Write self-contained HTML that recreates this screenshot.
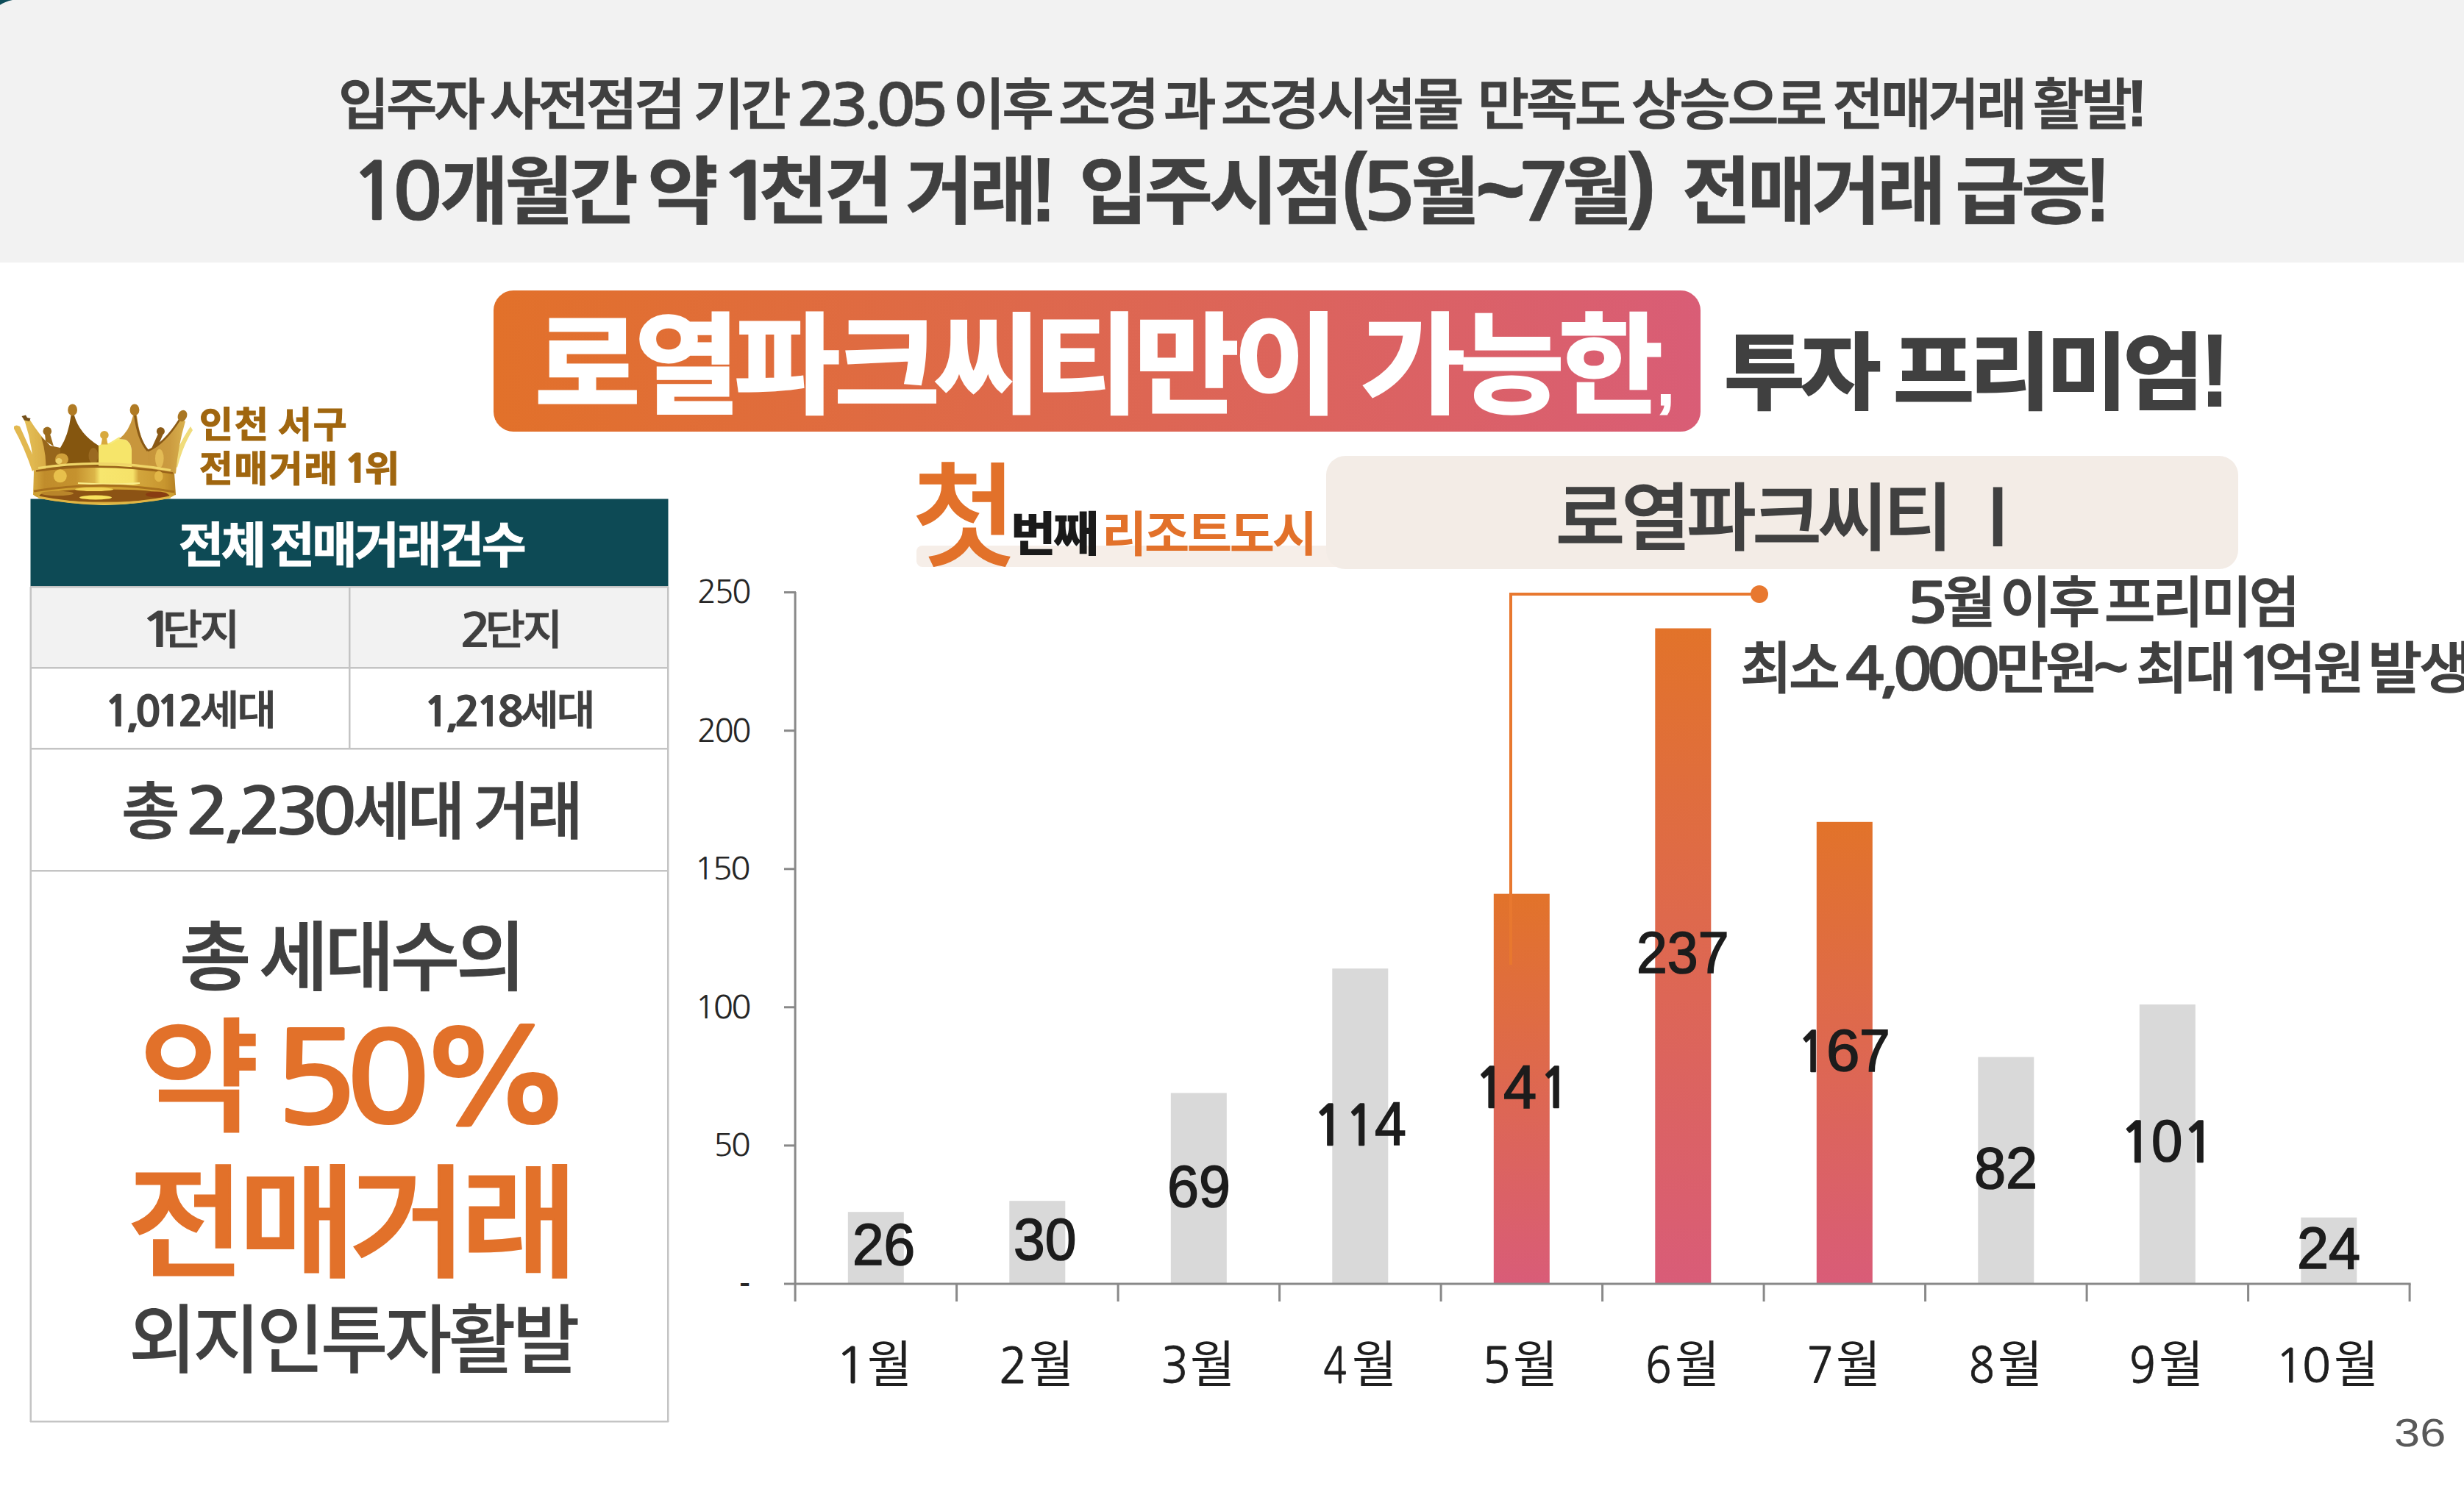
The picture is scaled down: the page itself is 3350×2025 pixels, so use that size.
<!DOCTYPE html>
<html lang="ko"><head><meta charset="utf-8"><title>slide 36</title>
<style>
html,body{margin:0;padding:0;background:#fff;}
#s{position:relative;width:3350px;height:2025px;overflow:hidden;background:#fff;}
.L{position:absolute;left:0;top:0;font-size:0;line-height:0;white-space:pre;}
.r{display:inline-block;width:0;vertical-align:top;position:relative;white-space:pre;line-height:1;transform-origin:0 0;}
.b{position:absolute;}
</style></head><body><div id="s">
<svg class="b" style="left:0;top:0" width="3350" height="2025" viewBox="0 0 3350 2025">
<defs>
<linearGradient id="gb" x1="0" y1="0" x2="1" y2="0"><stop offset="0" stop-color="#e2712a"/><stop offset="1" stop-color="#d95d76"/></linearGradient>
<linearGradient id="gv" x1="0" y1="0" x2="0" y2="1"><stop offset="0" stop-color="#e2732a"/><stop offset="1" stop-color="#d95c78"/></linearGradient>
</defs>
<rect x="0" y="0" width="3350" height="357" fill="#f2f2f2"/>
<path d="M0 0 H17 Q6 2.5 0 6.8 Z" fill="#0e4d5a"/>
<rect x="671" y="395" width="1641" height="192" rx="27" fill="url(#gb)"/>
<rect x="1246" y="742" width="620" height="29" rx="8" fill="#f6eee8"/>
<rect x="1803" y="620" width="1240" height="154" rx="26" fill="#f3ece6"/>
<rect x="41.5" y="678.5" width="867" height="119.5" fill="#0d4a55"/>
<rect x="42" y="798" width="866" height="110" fill="#f2f2f2"/>
<rect x="41" y="797" width="868" height="2.5" fill="#c4c4c4"/>
<rect x="41" y="907" width="868" height="2.5" fill="#c4c4c4"/>
<rect x="41" y="1017" width="868" height="2.5" fill="#c4c4c4"/>
<rect x="41" y="1183" width="868" height="2.5" fill="#c4c4c4"/>
<rect x="41" y="1932" width="868" height="2.5" fill="#c4c4c4"/>
<rect x="40.5" y="798" width="2.5" height="1136" fill="#c4c4c4"/>
<rect x="907" y="798" width="2.5" height="1136" fill="#c4c4c4"/>
<rect x="474" y="798" width="2.5" height="220" fill="#c4c4c4"/>
<g id="crown">
<defs>
<linearGradient id="cb" x1="0" y1="0" x2="1" y2="0">
<stop offset="0" stop-color="#d6a93e"/><stop offset="0.08" stop-color="#c08c2b"/><stop offset="0.3" stop-color="#c5922e"/><stop offset="0.43" stop-color="#dcb548"/><stop offset="0.47" stop-color="#f7e66e"/><stop offset="0.7" stop-color="#f6e269"/><stop offset="0.74" stop-color="#d2a53c"/><stop offset="0.92" stop-color="#c8962f"/><stop offset="1" stop-color="#b68225"/>
</linearGradient>
<linearGradient id="cr" x1="0" y1="0" x2="1" y2="0">
<stop offset="0" stop-color="#c6943a"/><stop offset="0.6" stop-color="#cb9b40"/><stop offset="1" stop-color="#d9b14e"/>
</linearGradient>
<linearGradient id="cl" x1="0" y1="0" x2="1" y2="0">
<stop offset="0" stop-color="#e6c25a"/><stop offset="1" stop-color="#d4a53f"/>
</linearGradient>
</defs>
<!-- outer thin prongs -->
<path d="M19 580 Q22 577 27 580 Q37 602 51 634 L44 641 Q33 608 19 583Z" fill="#e2b84f"/>
<path d="M259 580 L262 585 Q249 605 241 636 L234 629 Q244 602 259 580Z" fill="#f0dc7c"/>
<!-- second left prong (light) + dark side -->
<path d="M31 567 L40 570 Q53 591 68 606 L70 644 L46 644 Q45 608 34 574Z" fill="url(#cl)"/>
<path d="M56 594 Q63 600 68 606 L82 609 L84 644 L62 644 Q64 620 56 594Z" fill="#97661b"/>
<path d="M29.5 566 L35 564.5 L37 568 L41.5 569 L40 573 L33 571.5Z" fill="#74501a"/>
<!-- right spike -->
<path d="M201 613 Q223 604 244 570 L252 573 Q242 606 239 644 L199 644Z" fill="url(#cr)"/>
<path d="M201 613 Q223 604 244 571" fill="none" stroke="#8a5a16" stroke-width="2.5"/>
<!-- main left peak (dark) -->
<path d="M82 609 Q93 592 96.5 565 L101 565 Q108 590 134 606 L135 644 L82 644Z" fill="#85560f"/>
<ellipse cx="127" cy="620" rx="6.5" ry="11" fill="#9a6a21"/>
<!-- centre piece -->
<path d="M134 606 Q140 602 147 603 L162 597 L171 598 Q178 602 179 612 L180 644 L134 644Z" fill="#f6e56a"/>
<path d="M150 603 L163 595" stroke="#f6ea80" stroke-width="2.5"/>
<!-- main right peak -->
<path d="M162 597 Q176 586 181 565 L186 565 Q190 598 201 613 L202 644 L179 644 L179 612 Q178 602 171 598Z" fill="#c8963c"/>
<path d="M183.5 565 Q188 598 201 613" fill="none" stroke="#8a5a16" stroke-width="3"/>
<!-- balls -->
<ellipse cx="98.6" cy="557.4" rx="6.4" ry="7.9" fill="#b07b24"/>
<ellipse cx="183" cy="557.4" rx="6.4" ry="7.9" fill="#b07b24"/>
<ellipse cx="248" cy="565.5" rx="6" ry="8" transform="rotate(24 248 565.5)" fill="#a97622"/>
<circle cx="64.3" cy="586.4" r="5.8" fill="#9b6b1d"/><path d="M61 590 L68 590 L73 607 L62 600Z" fill="#9b6b1d"/>
<circle cx="141.9" cy="591.7" r="5.8" fill="#d8a93e"/><path d="M139 596 L145 596 L146.5 604.5 L137.5 604.5Z" fill="#d8a93e"/>
<circle cx="218.4" cy="586.4" r="5.5" fill="#8b5a16"/><path d="M215 590 L222 590 L215 606 L205 612Z" fill="#8b5a16"/>
<!-- upper gems -->
<ellipse cx="84" cy="624.5" rx="9" ry="8" fill="#d0a03a"/><ellipse cx="80" cy="627" rx="4.5" ry="4" fill="#ecd06a"/>
<ellipse cx="216.8" cy="623.4" rx="5.8" ry="12.7" fill="#e3bb55"/>
<!-- band -->
<path d="M46 641 Q141 626 237 643 L239 673 Q141 701 45 673Z" fill="url(#cb)"/>
<path d="M52 636.5 Q141 623 232 639.5" fill="none" stroke="#efd568" stroke-width="3.2"/>
<path d="M49 640.5 Q141 627.5 235 643.5" fill="none" stroke="#99631a" stroke-width="2.6"/>
<circle cx="81.8" cy="647.3" r="9" fill="#e8c04c"/>
<ellipse cx="215.8" cy="647.8" rx="5.8" ry="7.4" fill="#e2b748"/>
<path d="M106 657 Q150 660 190 657" fill="none" stroke="#f9ec8a" stroke-width="2.2"/>
<!-- base ring -->
<ellipse cx="141.5" cy="672" rx="96" ry="13.2" fill="#cf9f31"/>
<path d="M46 668 Q141 652 237 669" fill="none" stroke="#a8701d" stroke-width="3"/>
<ellipse cx="142" cy="674" rx="88.5" ry="8.6" fill="#8c5314"/>
<ellipse cx="213" cy="672.5" rx="15" ry="4" fill="#883c12"/>
<ellipse cx="128" cy="665.5" rx="26" ry="2.6" fill="#f1d253"/>
<ellipse cx="130" cy="676.5" rx="22" ry="3" fill="#f8e25c"/>
<ellipse cx="78" cy="671" rx="22" ry="3.2" fill="#b9852a"/>
<path d="M52 676 Q141 694 232 676" fill="none" stroke="#e0b544" stroke-width="3"/>
</g>

<rect x="1152.8" y="1648.2" width="76.0" height="97.8" fill="#d9d9d9"/>
<rect x="1372.3" y="1633.2" width="76.0" height="112.8" fill="#d9d9d9"/>
<rect x="1591.8" y="1486.4" width="76.0" height="259.6" fill="#d9d9d9"/>
<rect x="1811.3" y="1317.2" width="76.0" height="428.8" fill="#d9d9d9"/>
<rect x="2030.8" y="1215.6" width="76.0" height="530.4" fill="url(#gv)"/>
<rect x="2250.3" y="854.5" width="76.0" height="891.5" fill="url(#gv)"/>
<rect x="2469.8" y="1117.8" width="76.0" height="628.2" fill="url(#gv)"/>
<rect x="2689.3" y="1437.5" width="76.0" height="308.5" fill="#d9d9d9"/>
<rect x="2908.8" y="1366.1" width="76.0" height="379.9" fill="#d9d9d9"/>
<rect x="3128.3" y="1655.7" width="76.0" height="90.3" fill="#d9d9d9"/>
<rect x="1079.6" y="805" width="3" height="965.0" fill="#898989"/>
<rect x="1066" y="1744.5" width="2211.6" height="3" fill="#898989"/>
<rect x="1066" y="1556.4" width="16" height="3" fill="#898989"/>
<rect x="1066" y="1368.3" width="16" height="3" fill="#898989"/>
<rect x="1066" y="1180.3" width="16" height="3" fill="#898989"/>
<rect x="1066" y="992.2" width="16" height="3" fill="#898989"/>
<rect x="1066" y="804.1" width="16" height="3" fill="#898989"/>
<rect x="1299.1" y="1746.0" width="3" height="24" fill="#898989"/>
<rect x="1518.6" y="1746.0" width="3" height="24" fill="#898989"/>
<rect x="1738.1" y="1746.0" width="3" height="24" fill="#898989"/>
<rect x="1957.6" y="1746.0" width="3" height="24" fill="#898989"/>
<rect x="2177.1" y="1746.0" width="3" height="24" fill="#898989"/>
<rect x="2396.6" y="1746.0" width="3" height="24" fill="#898989"/>
<rect x="2616.1" y="1746.0" width="3" height="24" fill="#898989"/>
<rect x="2835.6" y="1746.0" width="3" height="24" fill="#898989"/>
<rect x="3055.1" y="1746.0" width="3" height="24" fill="#898989"/>
<rect x="3274.6" y="1746.0" width="3" height="24" fill="#898989"/>
<path d="M2054 1312 V808 H2392" fill="none" stroke="#e8782f" stroke-width="4"/>
<circle cx="2392" cy="808" r="12" fill="#e8782f"/>
</svg>
<div class="L"><span class="r" style="left:460.2px;top:105.7px;font-family:'Liberation Sans','Noto Sans CJK KR',sans-serif;font-weight:500;font-size:75.2px;letter-spacing:-3.76px;color:#404040;-webkit-text-stroke:1.5px;transform:scaleX(0.9979)">입주자</span> <span class="r" style="left:666.2px;top:105.7px;font-family:'Liberation Sans','Noto Sans CJK KR',sans-serif;font-weight:500;font-size:75.2px;letter-spacing:-3.76px;color:#404040;-webkit-text-stroke:1.5px;transform:scaleX(1.0027)">사전점검</span> <span class="r" style="left:942.7px;top:105.7px;font-family:'Liberation Sans','Noto Sans CJK KR',sans-serif;font-weight:500;font-size:75.2px;letter-spacing:-3.76px;color:#404040;-webkit-text-stroke:1.5px;transform:scaleX(0.9838)">기간</span> <span class="r" style="left:1082.5px;top:104.2px;font-family:'NanumGothic','Liberation Sans',sans-serif;font-weight:700;font-size:79.7px;letter-spacing:-7.97px;color:#404040;-webkit-text-stroke:0.4px;transform:scaleX(1.1153)">23.05</span> <span class="r" style="left:1296.4px;top:105.7px;font-family:'Liberation Sans','Noto Sans CJK KR',sans-serif;font-weight:500;font-size:75.2px;letter-spacing:-3.76px;color:#404040;-webkit-text-stroke:1.5px;transform:scaleX(1.0173)">이후</span> <span class="r" style="left:1439.0px;top:105.7px;font-family:'Liberation Sans','Noto Sans CJK KR',sans-serif;font-weight:500;font-size:75.2px;letter-spacing:-3.76px;color:#404040;-webkit-text-stroke:1.5px;transform:scaleX(1.0194)">조경</span> <span class="r" style="left:1582.0px;top:105.7px;font-family:'Liberation Sans','Noto Sans CJK KR',sans-serif;font-weight:500;font-size:75.2px;letter-spacing:-3.76px;color:#404040;-webkit-text-stroke:1.5px;transform:scaleX(1.0333)">과</span> <span class="r" style="left:1659.7px;top:105.7px;font-family:'Liberation Sans','Noto Sans CJK KR',sans-serif;font-weight:500;font-size:75.2px;letter-spacing:-3.76px;color:#404040;-webkit-text-stroke:1.5px;transform:scaleX(0.9985)">조경시설물</span>  <span class="r" style="left:2009.4px;top:105.7px;font-family:'Liberation Sans','Noto Sans CJK KR',sans-serif;font-weight:500;font-size:75.2px;letter-spacing:-3.76px;color:#404040;-webkit-text-stroke:1.5px;transform:scaleX(1.0094)">만족도</span> <span class="r" style="left:2217.5px;top:105.7px;font-family:'Liberation Sans','Noto Sans CJK KR',sans-serif;font-weight:500;font-size:75.2px;letter-spacing:-3.76px;color:#404040;-webkit-text-stroke:1.5px;transform:scaleX(1.0015)">상승으로</span> <span class="r" style="left:2492.3px;top:105.7px;font-family:'Liberation Sans','Noto Sans CJK KR',sans-serif;font-weight:500;font-size:75.2px;letter-spacing:-3.76px;color:#404040;-webkit-text-stroke:1.5px;transform:scaleX(0.9946)">전매거래</span> <span class="r" style="left:2763.6px;top:105.7px;font-family:'Liberation Sans','Noto Sans CJK KR',sans-serif;font-weight:500;font-size:75.2px;letter-spacing:-3.76px;color:#404040;-webkit-text-stroke:1.5px;transform:scaleX(1.0015)">활발</span><span class="r" style="left:2891.8px;top:96.3px;font-family:'Liberation Sans','Noto Sans CJK KR',sans-serif;font-weight:900;font-size:89.1px;letter-spacing:-4.46px;color:#404040;-webkit-text-stroke:1.5px;transform:scaleX(0.9143)">!</span></div>
<div class="L"><span class="r" style="left:474.5px;top:209.8px;font-family:'NanumGothic','Liberation Sans',sans-serif;font-weight:700;font-size:106.3px;letter-spacing:-10.63px;color:#404040;-webkit-text-stroke:0.6px;transform:scaleX(1.0790)">10</span><span class="r" style="left:598.3px;top:210.7px;font-family:'Liberation Sans','Noto Sans CJK KR',sans-serif;font-weight:700;font-size:100.2px;letter-spacing:-5.01px;color:#404040;-webkit-text-stroke:0.6px;transform:scaleX(1.0123)">개월간</span> <span class="r" style="left:879.7px;top:210.7px;font-family:'Liberation Sans','Noto Sans CJK KR',sans-serif;font-weight:700;font-size:100.2px;letter-spacing:-5.01px;color:#404040;-webkit-text-stroke:0.6px;transform:scaleX(1.0529)">약</span> <span class="r" style="left:973.6px;top:208.3px;font-family:'NanumGothic','Liberation Sans',sans-serif;font-weight:700;font-size:107.7px;letter-spacing:-10.77px;color:#404040;-webkit-text-stroke:0.6px;transform:scaleX(1.2964)">1</span><span class="r" style="left:1032.3px;top:210.7px;font-family:'Liberation Sans','Noto Sans CJK KR',sans-serif;font-weight:700;font-size:100.2px;letter-spacing:-5.01px;color:#404040;-webkit-text-stroke:0.6px;transform:scaleX(1.0148)">천건</span> <span class="r" style="left:1230.8px;top:210.7px;font-family:'Liberation Sans','Noto Sans CJK KR',sans-serif;font-weight:700;font-size:100.2px;letter-spacing:-5.01px;color:#404040;-webkit-text-stroke:0.6px;transform:scaleX(0.9976)">거래</span><span class="r" style="left:1401.4px;top:196.0px;font-family:'Liberation Sans','Noto Sans CJK KR',sans-serif;font-weight:900;font-size:124.6px;letter-spacing:-6.23px;color:#404040;-webkit-text-stroke:0.6px;transform:scaleX(0.8526)">!</span>  <span class="r" style="left:1466.8px;top:210.7px;font-family:'Liberation Sans','Noto Sans CJK KR',sans-serif;font-weight:700;font-size:100.2px;letter-spacing:-5.01px;color:#404040;-webkit-text-stroke:0.6px;transform:scaleX(1.0156)">입주시점</span><span class="r" style="left:1823.8px;top:191.5px;font-family:'Liberation Sans','Noto Sans CJK KR',sans-serif;font-weight:900;font-size:114.6px;letter-spacing:-5.73px;color:#404040;-webkit-text-stroke:0.6px;transform:scaleX(0.9212)">(</span><span class="r" style="left:1849.1px;top:209.5px;font-family:'NanumGothic','Liberation Sans',sans-serif;font-weight:700;font-size:107.4px;letter-spacing:-10.74px;color:#404040;-webkit-text-stroke:0.5px;transform:scaleX(1.1833)">5</span><span class="r" style="left:1917.7px;top:210.7px;font-family:'Liberation Sans','Noto Sans CJK KR',sans-serif;font-weight:700;font-size:100.2px;letter-spacing:-5.01px;color:#404040;-webkit-text-stroke:0.6px;transform:scaleX(1.0210)">월</span><span class="r" style="left:2005.5px;top:192.0px;font-family:'Liberation Sans','Noto Sans CJK KR',sans-serif;font-weight:700;font-size:130.7px;letter-spacing:-6.54px;color:#404040;-webkit-text-stroke:0.6px;transform:scaleX(0.8940)">~</span><span class="r" style="left:2063.1px;top:209.8px;font-family:'NanumGothic','Liberation Sans',sans-serif;font-weight:700;font-size:106.9px;letter-spacing:-10.69px;color:#404040;-webkit-text-stroke:0.6px;transform:scaleX(1.1160)">7</span><span class="r" style="left:2123.5px;top:210.7px;font-family:'Liberation Sans','Noto Sans CJK KR',sans-serif;font-weight:700;font-size:100.2px;letter-spacing:-5.01px;color:#404040;-webkit-text-stroke:0.6px;transform:scaleX(1.0395)">월</span><span class="r" style="left:2214.0px;top:191.5px;font-family:'Liberation Sans','Noto Sans CJK KR',sans-serif;font-weight:900;font-size:114.6px;letter-spacing:-5.73px;color:#404040;-webkit-text-stroke:0.6px;transform:scaleX(0.9818)">)</span>  <span class="r" style="left:2287.2px;top:210.7px;font-family:'Liberation Sans','Noto Sans CJK KR',sans-serif;font-weight:700;font-size:100.2px;letter-spacing:-5.01px;color:#404040;-webkit-text-stroke:0.6px;transform:scaleX(1.0146)">전매거래</span> <span class="r" style="left:2657.7px;top:210.7px;font-family:'Liberation Sans','Noto Sans CJK KR',sans-serif;font-weight:700;font-size:100.2px;letter-spacing:-5.01px;color:#404040;-webkit-text-stroke:0.6px;transform:scaleX(1.0326)">급증</span><span class="r" style="left:2834.0px;top:196.2px;font-family:'Liberation Sans','Noto Sans CJK KR',sans-serif;font-weight:900;font-size:124.9px;letter-spacing:-6.25px;color:#404040;-webkit-text-stroke:0.6px;transform:scaleX(0.8684)">!</span></div>
<div class="L"><span class="r" style="left:727.4px;top:425.4px;font-family:'Liberation Sans','Noto Sans CJK KR',sans-serif;font-weight:700;font-size:148.5px;letter-spacing:-7.43px;color:#fff;-webkit-text-stroke:3px;transform:scaleX(1.0505)">로열파크씨티만이</span> <span class="r" style="left:1849.7px;top:425.4px;font-family:'Liberation Sans','Noto Sans CJK KR',sans-serif;font-weight:700;font-size:148.5px;letter-spacing:-7.43px;color:#fff;-webkit-text-stroke:3px;transform:scaleX(1.0406)">가능한</span><span class="r" style="left:2254.2px;top:480.3px;font-family:'Liberation Sans','Noto Sans CJK KR',sans-serif;font-weight:700;font-size:83.0px;letter-spacing:-4.15px;color:#fff;-webkit-text-stroke:3px;transform:scaleX(0.9250)">,</span></div>
<div class="L"><span class="r" style="left:2343.9px;top:451.6px;font-family:'Liberation Sans','Noto Sans CJK KR',sans-serif;font-weight:700;font-size:113.1px;letter-spacing:-5.66px;color:#404040;-webkit-text-stroke:2.2px;transform:scaleX(1.0535)">투자</span> <span class="r" style="left:2574.2px;top:451.6px;font-family:'Liberation Sans','Noto Sans CJK KR',sans-serif;font-weight:700;font-size:113.1px;letter-spacing:-5.66px;color:#404040;-webkit-text-stroke:2.2px;transform:scaleX(1.0582)">프리미엄</span><span class="r" style="left:2991.8px;top:433.7px;font-family:'Liberation Sans','Noto Sans CJK KR',sans-serif;font-weight:900;font-size:139.8px;letter-spacing:-6.99px;color:#404040;-webkit-text-stroke:2.2px;transform:scaleX(0.8273)">!</span></div>
<div class="L"><span class="r" style="left:270.7px;top:554.1px;font-family:'Liberation Sans','Noto Sans CJK KR',sans-serif;font-weight:700;font-size:48.6px;letter-spacing:1.94px;color:#a0660f;-webkit-text-stroke:1.2px;transform:scaleX(1.0267)">인천</span> <span class="r" style="left:377.7px;top:554.1px;font-family:'Liberation Sans','Noto Sans CJK KR',sans-serif;font-weight:700;font-size:48.6px;letter-spacing:1.94px;color:#a0660f;-webkit-text-stroke:1.2px;transform:scaleX(1.0258)">서구</span></div>
<div class="L"><span class="r" style="left:271.2px;top:613.2px;font-family:'Liberation Sans','Noto Sans CJK KR',sans-serif;font-weight:700;font-size:49.2px;letter-spacing:1.97px;color:#a0660f;-webkit-text-stroke:1.2px;transform:scaleX(1.0066)">전매거래</span> <span class="r" style="left:467.9px;top:612.0px;font-family:'NanumGothic','Liberation Sans',sans-serif;font-weight:800;font-size:51.1px;letter-spacing:-5.11px;color:#a0660f;-webkit-text-stroke:1.1px;transform:scaleX(1.0875)">1</span><span class="r" style="left:495.9px;top:613.2px;font-family:'Liberation Sans','Noto Sans CJK KR',sans-serif;font-weight:700;font-size:49.2px;letter-spacing:1.97px;color:#a0660f;-webkit-text-stroke:1.2px;transform:scaleX(1.0462)">위</span></div>
<div class="L"><span class="r" style="left:243.0px;top:710.3px;font-family:'Liberation Sans','Noto Sans CJK KR',sans-serif;font-weight:700;font-size:65.6px;letter-spacing:-3.28px;color:#fff;-webkit-text-stroke:1px;transform:scaleX(1.0127)">전체</span> <span class="r" style="left:366.6px;top:710.3px;font-family:'Liberation Sans','Noto Sans CJK KR',sans-serif;font-weight:700;font-size:65.6px;letter-spacing:-3.28px;color:#fff;-webkit-text-stroke:1px;transform:scaleX(1.0082)">전매거래건수</span></div>
<div class="L"><span class="r" style="left:188.7px;top:824.7px;font-family:'NanumGothic','Liberation Sans',sans-serif;font-weight:700;font-size:65.3px;letter-spacing:-6.53px;color:#404040;transform:scaleX(1.3125)">1</span><span class="r" style="left:220.8px;top:829.7px;font-family:'Liberation Sans','Noto Sans CJK KR',sans-serif;font-weight:500;font-size:55.6px;letter-spacing:-2.78px;color:#404040;-webkit-text-stroke:1px;transform:scaleX(1.0562)">단지</span></div>
<div class="L"><span class="r" style="left:624.5px;top:826.7px;font-family:'NanumGothic','Liberation Sans',sans-serif;font-weight:700;font-size:63.2px;letter-spacing:-6.32px;color:#404040;transform:scaleX(1.1310)">2</span><span class="r" style="left:659.8px;top:829.7px;font-family:'Liberation Sans','Noto Sans CJK KR',sans-serif;font-weight:500;font-size:55.6px;letter-spacing:-2.78px;color:#404040;-webkit-text-stroke:1px;transform:scaleX(1.0539)">단지</span></div>
<div class="L"><span class="r" style="left:142.3px;top:940.4px;font-family:'NanumGothic','Liberation Sans',sans-serif;font-weight:800;font-size:56.4px;letter-spacing:-5.64px;color:#404040;transform:scaleX(1.0292)">1,012</span><span class="r" style="left:272.4px;top:938.8px;font-family:'Liberation Sans','Noto Sans CJK KR',sans-serif;font-weight:500;font-size:55.0px;letter-spacing:-2.75px;color:#404040;-webkit-text-stroke:1px;transform:scaleX(1.0538)">세대</span></div>
<div class="L"><span class="r" style="left:575.6px;top:941.4px;font-family:'NanumGothic','Liberation Sans',sans-serif;font-weight:800;font-size:55.0px;letter-spacing:-5.50px;color:#404040;transform:scaleX(1.0625)">1,218</span><span class="r" style="left:707.0px;top:938.8px;font-family:'Liberation Sans','Noto Sans CJK KR',sans-serif;font-weight:500;font-size:55.0px;letter-spacing:-2.75px;color:#404040;-webkit-text-stroke:1px;transform:scaleX(1.0398)">세대</span></div>
<div class="L"><span class="r" style="left:165.4px;top:1062.0px;font-family:'Liberation Sans','Noto Sans CJK KR',sans-serif;font-weight:500;font-size:85.3px;letter-spacing:-4.26px;color:#404040;-webkit-text-stroke:1px;transform:scaleX(1.0139)">총</span> <span class="r" style="left:252.1px;top:1061.2px;font-family:'NanumGothic','Liberation Sans',sans-serif;font-weight:700;font-size:88.2px;letter-spacing:-8.82px;color:#404040;transform:scaleX(1.1378)">2,230</span><span class="r" style="left:480.3px;top:1062.0px;font-family:'Liberation Sans','Noto Sans CJK KR',sans-serif;font-weight:500;font-size:85.3px;letter-spacing:-4.26px;color:#404040;-webkit-text-stroke:1px;transform:scaleX(0.9972)">세대</span> <span class="r" style="left:643.6px;top:1062.0px;font-family:'Liberation Sans','Noto Sans CJK KR',sans-serif;font-weight:500;font-size:85.3px;letter-spacing:-4.26px;color:#404040;-webkit-text-stroke:1px;transform:scaleX(0.9739)">거래</span></div>
<div class="L"><span class="r" style="left:243.7px;top:1252.0px;font-family:'Liberation Sans','Noto Sans CJK KR',sans-serif;font-weight:500;font-size:103.2px;letter-spacing:-5.16px;color:#404040;-webkit-text-stroke:1px;transform:scaleX(1.0279)">총</span> <span class="r" style="left:351.9px;top:1252.0px;font-family:'Liberation Sans','Noto Sans CJK KR',sans-serif;font-weight:500;font-size:103.2px;letter-spacing:-5.16px;color:#404040;-webkit-text-stroke:1px;transform:scaleX(0.9957)">세대수의</span></div>
<div class="L"><span class="r" style="left:188.7px;top:1383.3px;font-family:'Liberation Sans','Noto Sans CJK KR',sans-serif;font-weight:500;font-size:168.6px;letter-spacing:-8.43px;color:#e2712a;-webkit-text-stroke:2.5px;transform:scaleX(1.0546)">약</span> <span class="r" style="left:368.6px;top:1383.7px;font-family:'NanumGothic','Liberation Sans',sans-serif;font-weight:700;font-size:172.9px;letter-spacing:-17.29px;color:#e2712a;transform:scaleX(1.1336)">50%</span></div>
<div class="L"><span class="r" style="left:172.6px;top:1583.3px;font-family:'Liberation Sans','Noto Sans CJK KR',sans-serif;font-weight:500;font-size:165.5px;letter-spacing:-8.28px;color:#e2712a;-webkit-text-stroke:3px;transform:scaleX(1.0496)">전매거래</span></div>
<div class="L"><span class="r" style="left:175.1px;top:1773.0px;font-family:'Liberation Sans','Noto Sans CJK KR',sans-serif;font-weight:500;font-size:102.2px;letter-spacing:-5.11px;color:#404040;transform:scaleX(0.9780)">외지인투자활발</span></div>
<div class="L"><span class="r" style="left:1239.9px;top:628.7px;font-family:'Liberation Sans','Noto Sans CJK KR',sans-serif;font-weight:500;font-size:153.9px;letter-spacing:-7.70px;color:#e2712a;-webkit-text-stroke:1.5px;transform:scaleX(1.0063)">첫</span><span class="r" style="left:1373.7px;top:694.9px;font-family:'Liberation Sans','Noto Sans CJK KR',sans-serif;font-weight:900;font-size:64.0px;letter-spacing:-3.20px;color:#1a1a1a;transform:scaleX(1.0434)">번째</span> <span class="r" style="left:1497.6px;top:694.9px;font-family:'Liberation Sans','Noto Sans CJK KR',sans-serif;font-weight:700;font-size:65.4px;letter-spacing:-3.27px;color:#e2712a;transform:scaleX(1.0179)">리조트도시</span></div>
<div class="L"><span class="r" style="left:2115.2px;top:654.9px;font-family:'Liberation Sans','Noto Sans CJK KR',sans-serif;font-weight:500;font-size:100.5px;letter-spacing:-5.03px;color:#404040;-webkit-text-stroke:1.5px;transform:scaleX(1.0195)">로열파크씨티</span>  <span class="r" style="left:2704.3px;top:644.0px;font-family:'Liberation Sans',sans-serif;font-weight:700;font-size:117.2px;letter-spacing:0.00px;color:#404040;transform:scaleX(0.7412)">I</span></div>
<div class="L"><span class="r" style="left:2591.2px;top:783.0px;font-family:'NanumGothic','Liberation Sans',sans-serif;font-weight:700;font-size:76.0px;letter-spacing:-7.60px;color:#404040;-webkit-text-stroke:0.8px;transform:scaleX(1.2600)">5</span><span class="r" style="left:2640.9px;top:782.7px;font-family:'Liberation Sans','Noto Sans CJK KR',sans-serif;font-weight:500;font-size:75.4px;letter-spacing:-3.77px;color:#404040;-webkit-text-stroke:1.3px;transform:scaleX(1.0517)">월</span> <span class="r" style="left:2718.5px;top:782.7px;font-family:'Liberation Sans','Noto Sans CJK KR',sans-serif;font-weight:500;font-size:75.4px;letter-spacing:-3.77px;color:#404040;-webkit-text-stroke:1.3px;transform:scaleX(1.0110)">이후</span> <span class="r" style="left:2860.8px;top:782.7px;font-family:'Liberation Sans','Noto Sans CJK KR',sans-serif;font-weight:500;font-size:75.4px;letter-spacing:-3.77px;color:#404040;-webkit-text-stroke:1.3px;transform:scaleX(1.0004)">프리미엄</span></div>
<div class="L"><span class="r" style="left:2365.5px;top:872.1px;font-family:'Liberation Sans','Noto Sans CJK KR',sans-serif;font-weight:500;font-size:75.9px;letter-spacing:-3.80px;color:#404040;-webkit-text-stroke:1.3px;transform:scaleX(1.0008)">최소</span> <span class="r" style="left:2508.3px;top:871.8px;font-family:'NanumGothic','Liberation Sans',sans-serif;font-weight:700;font-size:80.2px;letter-spacing:-8.02px;color:#404040;-webkit-text-stroke:0.3px;transform:scaleX(1.1376)">4,000</span><span class="r" style="left:2713.3px;top:872.1px;font-family:'Liberation Sans','Noto Sans CJK KR',sans-serif;font-weight:500;font-size:75.9px;letter-spacing:-3.80px;color:#404040;-webkit-text-stroke:1.3px;transform:scaleX(1.0315)">만원</span><span class="r" style="left:2846.0px;top:853.6px;font-family:'Liberation Sans','Noto Sans CJK KR',sans-serif;font-weight:500;font-size:104.3px;letter-spacing:-5.21px;color:#404040;-webkit-text-stroke:1.3px;transform:scaleX(0.7981)">~</span> <span class="r" style="left:2904.4px;top:872.1px;font-family:'Liberation Sans','Noto Sans CJK KR',sans-serif;font-weight:500;font-size:75.9px;letter-spacing:-3.80px;color:#404040;-webkit-text-stroke:1.3px;transform:scaleX(1.0063)">최대</span> <span class="r" style="left:3037.1px;top:870.5px;font-family:'NanumGothic','Liberation Sans',sans-serif;font-weight:700;font-size:81.2px;letter-spacing:-8.12px;color:#404040;-webkit-text-stroke:0.3px;transform:scaleX(1.2857)">1</span><span class="r" style="left:3079.4px;top:872.1px;font-family:'Liberation Sans','Noto Sans CJK KR',sans-serif;font-weight:500;font-size:75.9px;letter-spacing:-3.80px;color:#404040;-webkit-text-stroke:1.3px;transform:scaleX(0.9984)">억원</span> <span class="r" style="left:3219.1px;top:872.1px;font-family:'Liberation Sans','Noto Sans CJK KR',sans-serif;font-weight:500;font-size:75.9px;letter-spacing:-3.80px;color:#404040;-webkit-text-stroke:1.3px;transform:scaleX(1.0613)">발생</span></div>
<div class="L"><span class="r" style="left:947.7px;top:784.0px;font-family:'NanumGothic','Liberation Sans',sans-serif;font-weight:400;font-size:42.4px;letter-spacing:-2.54px;color:#262626;transform:scaleX(1.0179)">250</span></div>
<div class="L"><span class="r" style="left:947.8px;top:971.6px;font-family:'NanumGothic','Liberation Sans',sans-serif;font-weight:400;font-size:43.7px;letter-spacing:-2.62px;color:#262626;transform:scaleX(0.9884)">200</span></div>
<div class="L"><span class="r" style="left:944.3px;top:1160.7px;font-family:'NanumGothic','Liberation Sans',sans-serif;font-weight:400;font-size:41.7px;letter-spacing:-2.50px;color:#262626;transform:scaleX(1.0825)">150</span></div>
<div class="L"><span class="r" style="left:944.5px;top:1347.7px;font-family:'NanumGothic','Liberation Sans',sans-serif;font-weight:400;font-size:43.0px;letter-spacing:-2.58px;color:#262626;transform:scaleX(1.0492)">100</span></div>
<div class="L"><span class="r" style="left:970.3px;top:1536.8px;font-family:'NanumGothic','Liberation Sans',sans-serif;font-weight:400;font-size:41.7px;letter-spacing:-2.50px;color:#262626;transform:scaleX(1.0595)">50</span></div>
<div class="L"><span class="r" style="left:1005.2px;top:1718.0px;font-family:'Liberation Sans','Noto Sans CJK KR',sans-serif;font-weight:400;font-size:50.0px;letter-spacing:0.00px;color:#262626;transform:scaleX(0.9167)">-</span></div>
<div class="L"><span class="r" style="left:1135.4px;top:1824.8px;font-family:'NanumGothic','Liberation Sans',sans-serif;font-weight:400;font-size:65.9px;letter-spacing:0.00px;color:#1f1f1f;-webkit-text-stroke:0.8px;transform:scaleX(1.1125)">1</span><span class="r" style="left:1179.4px;top:1823.2px;font-family:'Liberation Sans','Noto Sans CJK KR',sans-serif;font-weight:400;font-size:67.8px;letter-spacing:0.00px;color:#1f1f1f;transform:scaleX(0.9792)">월</span></div>
<div class="L"><span class="r" style="left:1358.1px;top:1824.8px;font-family:'NanumGothic','Liberation Sans',sans-serif;font-weight:400;font-size:65.9px;letter-spacing:0.00px;color:#1f1f1f;-webkit-text-stroke:0.8px;transform:scaleX(0.9767)">2</span><span class="r" style="left:1398.9px;top:1823.2px;font-family:'Liberation Sans','Noto Sans CJK KR',sans-serif;font-weight:400;font-size:67.8px;letter-spacing:0.00px;color:#1f1f1f;transform:scaleX(0.9792)">월</span></div>
<div class="L"><span class="r" style="left:1577.8px;top:1824.3px;font-family:'NanumGothic','Liberation Sans',sans-serif;font-weight:400;font-size:66.3px;letter-spacing:0.00px;color:#1f1f1f;-webkit-text-stroke:0.8px;transform:scaleX(0.9452)">3</span><span class="r" style="left:1618.4px;top:1823.2px;font-family:'Liberation Sans','Noto Sans CJK KR',sans-serif;font-weight:400;font-size:67.8px;letter-spacing:0.00px;color:#1f1f1f;transform:scaleX(0.9792)">월</span></div>
<div class="L"><span class="r" style="left:1799.4px;top:1824.8px;font-family:'NanumGothic','Liberation Sans',sans-serif;font-weight:400;font-size:65.9px;letter-spacing:0.00px;color:#1f1f1f;-webkit-text-stroke:0.8px;transform:scaleX(0.8139)">4</span><span class="r" style="left:1837.9px;top:1823.2px;font-family:'Liberation Sans','Noto Sans CJK KR',sans-serif;font-weight:400;font-size:67.8px;letter-spacing:0.00px;color:#1f1f1f;transform:scaleX(0.9792)">월</span></div>
<div class="L"><span class="r" style="left:2014.7px;top:1823.8px;font-family:'NanumGothic','Liberation Sans',sans-serif;font-weight:400;font-size:66.3px;letter-spacing:0.00px;color:#1f1f1f;-webkit-text-stroke:0.8px;transform:scaleX(0.9767)">5</span><span class="r" style="left:2057.4px;top:1823.2px;font-family:'Liberation Sans','Noto Sans CJK KR',sans-serif;font-weight:400;font-size:67.8px;letter-spacing:0.00px;color:#1f1f1f;transform:scaleX(0.9792)">월</span></div>
<div class="L"><span class="r" style="left:2236.5px;top:1824.3px;font-family:'NanumGothic','Liberation Sans',sans-serif;font-weight:400;font-size:66.3px;letter-spacing:0.00px;color:#1f1f1f;-webkit-text-stroke:0.8px;transform:scaleX(0.8879)">6</span><span class="r" style="left:2276.9px;top:1823.2px;font-family:'Liberation Sans','Noto Sans CJK KR',sans-serif;font-weight:400;font-size:67.8px;letter-spacing:0.00px;color:#1f1f1f;transform:scaleX(0.9792)">월</span></div>
<div class="L"><span class="r" style="left:2455.8px;top:1824.8px;font-family:'NanumGothic','Liberation Sans',sans-serif;font-weight:400;font-size:65.9px;letter-spacing:0.00px;color:#1f1f1f;-webkit-text-stroke:0.8px;transform:scaleX(0.9452)">7</span><span class="r" style="left:2496.4px;top:1823.2px;font-family:'Liberation Sans','Noto Sans CJK KR',sans-serif;font-weight:400;font-size:67.8px;letter-spacing:0.00px;color:#1f1f1f;transform:scaleX(0.9792)">월</span></div>
<div class="L"><span class="r" style="left:2676.5px;top:1824.3px;font-family:'NanumGothic','Liberation Sans',sans-serif;font-weight:400;font-size:66.3px;letter-spacing:0.00px;color:#1f1f1f;-webkit-text-stroke:0.8px;transform:scaleX(0.8618)">8</span><span class="r" style="left:2715.9px;top:1823.2px;font-family:'Liberation Sans','Noto Sans CJK KR',sans-serif;font-weight:400;font-size:67.8px;letter-spacing:0.00px;color:#1f1f1f;transform:scaleX(0.9792)">월</span></div>
<div class="L"><span class="r" style="left:2895.0px;top:1824.3px;font-family:'NanumGothic','Liberation Sans',sans-serif;font-weight:400;font-size:66.3px;letter-spacing:0.00px;color:#1f1f1f;-webkit-text-stroke:0.8px;transform:scaleX(0.8879)">9</span><span class="r" style="left:2935.4px;top:1823.2px;font-family:'Liberation Sans','Noto Sans CJK KR',sans-serif;font-weight:400;font-size:67.8px;letter-spacing:0.00px;color:#1f1f1f;transform:scaleX(0.9792)">월</span></div>
<div class="L"><span class="r" style="left:3092.5px;top:1825.8px;font-family:'NanumGothic','Liberation Sans',sans-serif;font-weight:400;font-size:63.7px;letter-spacing:-2.55px;color:#1f1f1f;-webkit-text-stroke:0.8px;transform:scaleX(1.0206)">10</span><span class="r" style="left:3172.6px;top:1823.2px;font-family:'Liberation Sans','Noto Sans CJK KR',sans-serif;font-weight:400;font-size:67.8px;letter-spacing:0.00px;color:#1f1f1f;transform:scaleX(0.9792)">월</span></div>
<div class="L"><span class="r" style="left:1158.6px;top:1653.3px;font-family:'Liberation Sans',sans-serif;font-weight:400;font-size:79.6px;letter-spacing:0.00px;color:#1c1c1c;-webkit-text-stroke:1.7px;transform:scaleX(0.9627)">26</span></div>
<div class="L"><span class="r" style="left:1378.1px;top:1646.0px;font-family:'Liberation Sans',sans-serif;font-weight:400;font-size:79.6px;letter-spacing:0.00px;color:#1c1c1c;-webkit-text-stroke:1.7px;transform:scaleX(0.9643)">30</span></div>
<div class="L"><span class="r" style="left:1587.1px;top:1573.5px;font-family:'Liberation Sans',sans-serif;font-weight:400;font-size:79.5px;letter-spacing:0.00px;color:#1c1c1c;-webkit-text-stroke:1.7px;transform:scaleX(0.9711)">69</span></div>
<div class="L"><span class="r" style="left:1784.4px;top:1494.8px;font-family:'NanumGothic','Liberation Sans',sans-serif;font-weight:700;font-size:75.0px;letter-spacing:0.00px;color:#1c1c1c;-webkit-text-stroke:0.6px;transform:scaleX(0.9950)">1</span><span class="r" style="left:1828.0px;top:1494.8px;font-family:'NanumGothic','Liberation Sans',sans-serif;font-weight:700;font-size:75.0px;letter-spacing:0.00px;color:#1c1c1c;-webkit-text-stroke:0.6px;transform:scaleX(0.9500)">1</span><span class="r" style="left:1869.4px;top:1488.3px;font-family:'Liberation Sans',sans-serif;font-weight:400;font-size:82.9px;letter-spacing:0.00px;color:#1c1c1c;-webkit-text-stroke:1.7px;transform:scaleX(0.9295)">4</span></div>
<div class="L"><span class="r" style="left:2003.8px;top:1444.1px;font-family:'NanumGothic','Liberation Sans',sans-serif;font-weight:700;font-size:75.0px;letter-spacing:0.00px;color:#1c1c1c;-webkit-text-stroke:0.6px;transform:scaleX(0.9700)">1</span><span class="r" style="left:2044.4px;top:1437.6px;font-family:'Liberation Sans',sans-serif;font-weight:400;font-size:82.9px;letter-spacing:0.00px;color:#1c1c1c;-webkit-text-stroke:1.7px;transform:scaleX(0.9795)">4</span><span class="r" style="left:2091.9px;top:1444.1px;font-family:'NanumGothic','Liberation Sans',sans-serif;font-weight:700;font-size:75.0px;letter-spacing:0.00px;color:#1c1c1c;-webkit-text-stroke:0.6px;transform:scaleX(0.9700)">1</span></div>
<div class="L"><span class="r" style="left:2224.7px;top:1255.9px;font-family:'Liberation Sans',sans-serif;font-weight:400;font-size:79.6px;letter-spacing:0.00px;color:#1c1c1c;-webkit-text-stroke:1.7px;transform:scaleX(0.9449)">237</span></div>
<div class="L"><span class="r" style="left:2443.3px;top:1394.9px;font-family:'NanumGothic','Liberation Sans',sans-serif;font-weight:700;font-size:75.0px;letter-spacing:0.00px;color:#1c1c1c;-webkit-text-stroke:0.6px;transform:scaleX(0.9100)">1</span><span class="r" style="left:2483.4px;top:1388.9px;font-family:'Liberation Sans',sans-serif;font-weight:400;font-size:79.5px;letter-spacing:0.00px;color:#1c1c1c;-webkit-text-stroke:1.7px;transform:scaleX(1.0282)">6</span><span class="r" style="left:2528.1px;top:1387.9px;font-family:'Liberation Sans',sans-serif;font-weight:400;font-size:81.5px;letter-spacing:0.00px;color:#1c1c1c;-webkit-text-stroke:1.7px;transform:scaleX(0.9205)">7</span></div>
<div class="L"><span class="r" style="left:2683.9px;top:1548.5px;font-family:'Liberation Sans',sans-serif;font-weight:400;font-size:79.6px;letter-spacing:0.00px;color:#1c1c1c;-webkit-text-stroke:1.7px;transform:scaleX(0.9732)">82</span></div>
<div class="L"><span class="r" style="left:2880.8px;top:1518.4px;font-family:'NanumGothic','Liberation Sans',sans-serif;font-weight:700;font-size:75.0px;letter-spacing:0.00px;color:#1c1c1c;-webkit-text-stroke:0.6px;transform:scaleX(1.0350)">1</span><span class="r" style="left:2925.4px;top:1512.4px;font-family:'Liberation Sans',sans-serif;font-weight:400;font-size:79.5px;letter-spacing:0.00px;color:#1c1c1c;-webkit-text-stroke:1.7px;transform:scaleX(0.9575)">0</span><span class="r" style="left:2966.0px;top:1518.4px;font-family:'NanumGothic','Liberation Sans',sans-serif;font-weight:700;font-size:75.0px;letter-spacing:0.00px;color:#1c1c1c;-webkit-text-stroke:0.6px;transform:scaleX(1.0350)">1</span></div>
<div class="L"><span class="r" style="left:3123.4px;top:1657.2px;font-family:'Liberation Sans',sans-serif;font-weight:400;font-size:80.6px;letter-spacing:0.00px;color:#1c1c1c;-webkit-text-stroke:1.7px;transform:scaleX(0.9588)">24</span></div>
<div class="L"><span class="r" style="left:3254.6px;top:1922.0px;font-family:'Liberation Sans',sans-serif;font-weight:400;font-size:53.5px;letter-spacing:0.00px;color:#595959;transform:scaleX(1.1818)">36</span></div>
</div></body></html>
